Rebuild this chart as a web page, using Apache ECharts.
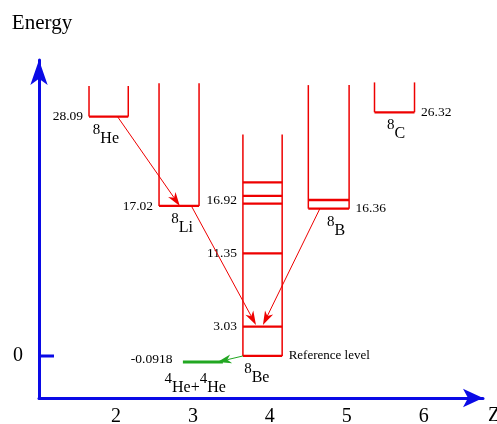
<!DOCTYPE html>
<html><head><meta charset="utf-8">
<script src="https://cdn.jsdelivr.net/npm/echarts@6/dist/echarts.min.js"></script>
<style>html,body{margin:0;padding:0;background:#fff}#c{width:497px;height:424px}</style>
</head><body><div id="c"></div>
<script>
// ---- data ----
const xTickValues = [2, 3, 4, 5, 6];
const yTickValues = [0];
const massNumber = '8';
const nuclideSymbols = ['He', 'Li', 'Be', 'B', 'C'];
const boxLeftZ  = [1.65, 2.56, 3.65, 4.50, 5.36];
const boxRightZ = [2.16, 3.08, 4.16, 5.03, 5.88];
const boxTopE   = [30.0, 30.3, 24.6, 30.1, 30.4];
const groundE   = [26.6, 16.67, 0, 16.37, 27.08];
const nameZ     = [1.87, 2.86, 3.83, 4.86, 5.64];

const levelOwner = [0, 1, 2, 2, 2, 2, 2, 2, 3, 3, 4];
const levelE     = [26.6, 16.67, 0, 3.26, 11.41, 16.92, 17.78, 19.3, 16.37, 17.33, 27.08];
const levelText  = ['28.09', '17.02', 'Reference level', '3.03', '11.35', '16.92', '', '', '16.36', '', '26.32'];

const alphaLeftZ = [2.87], alphaRightZ = [3.39], alphaE = [-0.67];
const alphaText = ['-0.0918'];
const alphaNameZ = [3.03];

const decayFromZ = [2.02, 2.98, 4.65];
const decayFromE = [26.6, 16.67, 16.37];
const decayToZ   = [2.83, 3.82, 3.91];
const decayToE   = [16.67, 3.44, 3.44];
const alphaDecayFromZ = [3.65], alphaDecayFromE = [0];
const alphaDecayToZ = [3.32], alphaDecayToE = [-0.67];

// ---- styles ----
const RED = '#ee0000', GREEN = '#22a722', BLUE = '#0a0ae6';
const FF = '"Liberation Serif", "Times New Roman", serif';
const valFont = '13.5px ' + FF;
const refFont = '13px ' + FF;
const nameRich = {
  s: { font: '15px ' + FF, fill: '#000', padding: [0, 0, 9, 0] },
  n: { font: '16px ' + FF, fill: '#000', padding: [9, 0, 0, 0] }
};

function lineEl(a, b, color, w) {
  return { type: 'line', shape: { x1: a[0], y1: a[1], x2: b[0], y2: b[1] }, style: { stroke: color, lineWidth: w } };
}

const boxData = boxLeftZ.map((l, i) => [l, boxRightZ[i], groundE[i], boxTopE[i]]);
const levelData = levelOwner.map((o, i) => [boxLeftZ[o], boxRightZ[o], levelE[i]]);
const labelSideRight = { 'Reference level': true, '16.36': true, '26.32': true };
const labelShift = { '16.92': -3 };

function arrowItem(color) {
  return function (params, api) {
    const p0 = api.coord([api.value(0), api.value(1)]);
    const p1 = api.coord([api.value(2), api.value(3)]);
    const dx = p1[0] - p0[0], dy = p1[1] - p0[1];
    const L = Math.hypot(dx, dy), ux = dx / L, uy = dy / L, nx = -uy, ny = ux;
    const len = 14, hw = 4.5, notch = 4;
    const back = [p1[0] - ux * len, p1[1] - uy * len];
    const inner = [p1[0] - ux * (len - notch), p1[1] - uy * (len - notch)];
    return { type: 'group', children: [
      lineEl(p0, inner, color, 1),
      { type: 'polygon', shape: { points: [p1, [back[0] + nx * hw, back[1] + ny * hw], inner, [back[0] - nx * hw, back[1] - ny * hw]] }, style: { fill: color } }
    ] };
  };
}

const chart = echarts.init(document.getElementById('c'), null, { renderer: 'canvas' });
chart.setOption({
  animation: false,
  backgroundColor: '#fff',
  grid: { left: 39, right: 14, top: 60, bottom: 26, outerBoundsMode: 'none', containLabel: false },
  xAxis: {
    type: 'value', min: 1, max: 6.77, interval: 1,
    name: 'Z', nameLocation: 'end', nameGap: 5,
    nameTextStyle: { fontFamily: FF, fontSize: 20, color: '#000', verticalAlign: 'top', padding: [8, 0, 0, 0] },
    axisLine: { show: true, onZero: false, symbol: ['none', 'arrow'], symbolSize: [14, 20], lineStyle: { color: BLUE, width: 3 } },
    axisTick: { show: false }, splitLine: { show: false },
    axisLabel: { margin: 9, fontFamily: FF, fontSize: 20, color: '#000',
      formatter: v => xTickValues.indexOf(v) >= 0 ? String(v) : '' }
  },
  yAxis: {
    type: 'value', min: -4.67, max: 32.89,
    name: 'Energy', nameLocation: 'end', nameGap: 26,
    nameTextStyle: { fontFamily: FF, fontSize: 21, color: '#000', padding: [0, 0, 0, 6] },
    axisLine: { show: true, onZero: false, symbol: ['none', 'arrow'], symbolSize: [13, 25], lineStyle: { color: BLUE, width: 3 } },
    axisTick: { show: false }, splitLine: { show: false },
    axisLabel: { margin: 16, fontFamily: FF, fontSize: 20, color: '#000',
      formatter: v => yTickValues.indexOf(v) >= 0 ? String(v) : '' }
  },
  series: [
    { type: 'line', name: 'zeroTick', data: [[1, 0], [1.195, 0]], symbol: 'none', lineStyle: { color: BLUE, width: 3 }, silent: true },
    { type: 'custom', name: 'boxes', data: boxData, renderItem: function (params, api) {
        const lt = api.coord([api.value(0), api.value(3)]), lb = api.coord([api.value(0), api.value(2)]);
        const rt = api.coord([api.value(1), api.value(3)]), rb = api.coord([api.value(1), api.value(2)]);
        return { type: 'group', children: [lineEl(lt, lb, RED, 1.5), lineEl(rt, rb, RED, 1.5)] };
      } },
    { type: 'custom', name: 'levels', data: levelData, renderItem: function (params, api) {
        const a = api.coord([api.value(0), api.value(2)]), b = api.coord([api.value(1), api.value(2)]);
        const t = levelText[params.dataIndex];
        const ch = [lineEl(a, b, RED, 2.3)];
        if (t) {
          const right = !!labelSideRight[t];
          ch.push({ type: 'text', style: { text: t, x: right ? b[0] + 6.5 : a[0] - 6, y: a[1] + (labelShift[t] || 0),
            align: right ? 'left' : 'right', verticalAlign: 'middle', font: t === 'Reference level' ? refFont : valFont, fill: '#000' } });
        }
        return { type: 'group', children: ch };
      } },
    { type: 'custom', name: 'names', data: nameZ.map((z, i) => [z, groundE[i]]), renderItem: function (params, api) {
        const p = api.coord([api.value(0), api.value(1)]);
        return { type: 'text', style: { text: '{s|' + massNumber + '}{n|' + nuclideSymbols[params.dataIndex] + '}', rich: nameRich,
          x: p[0], y: p[1] + 5, align: 'center', verticalAlign: 'top', font: '16px ' + FF, fill: '#000' } };
      } },
    { type: 'custom', name: 'alpha', data: alphaLeftZ.map((l, i) => [l, alphaRightZ[i], alphaE[i], alphaNameZ[i]]), renderItem: function (params, api) {
        const a = api.coord([api.value(0), api.value(2)]), b = api.coord([api.value(1), api.value(2)]);
        const n = api.coord([api.value(3), api.value(2)]);
        return { type: 'group', children: [
          lineEl(a, b, GREEN, 3),
          { type: 'text', style: { text: alphaText[params.dataIndex], x: a[0] - 10.5, y: a[1] - 3, align: 'right', verticalAlign: 'middle', font: valFont, fill: '#000' } },
          { type: 'text', style: { text: '{s|4}{n|He+}{s|4}{n|He}', rich: nameRich, x: n[0], y: n[1] + 9, align: 'center', verticalAlign: 'top', font: '16px ' + FF, fill: '#000' } }
        ] };
      } },
    { type: 'custom', name: 'betaDecays', data: decayFromZ.map((z, i) => [z, decayFromE[i], decayToZ[i], decayToE[i]]), renderItem: arrowItem(RED) },
    { type: 'custom', name: 'alphaDecay', data: alphaDecayFromZ.map((z, i) => [z, alphaDecayFromE[i], alphaDecayToZ[i], alphaDecayToE[i]]), renderItem: arrowItem(GREEN) }
  ]
});
</script></body></html>
